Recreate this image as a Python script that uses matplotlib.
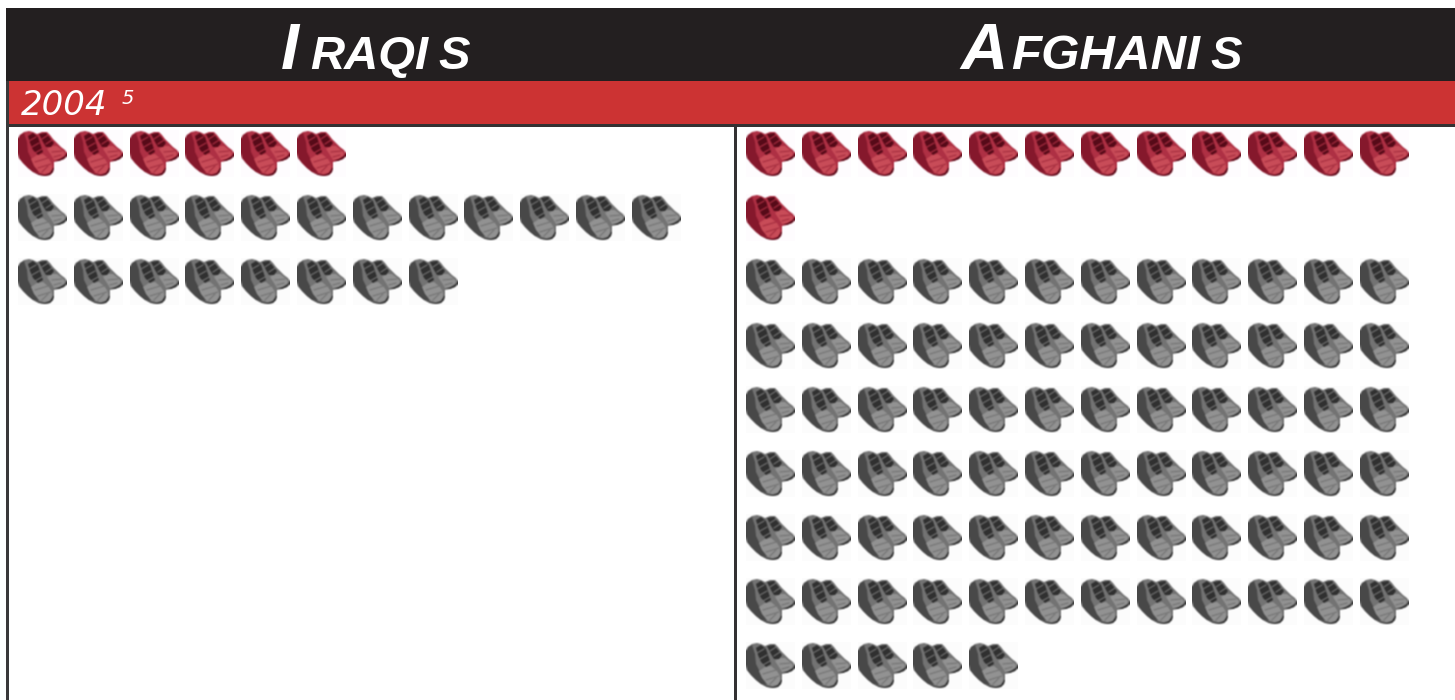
import numpy as np
import matplotlib
matplotlib.use("Agg")
import matplotlib.pyplot as plt
from matplotlib.patches import Polygon, Rectangle

plt.rcParams["font.family"] = ["Liberation Sans", "DejaVu Sans"]

# DATA

groups = ["Iraqis", "Afghanis"]
year = "2004"
footnote = "5"
red_shoes = [6, 13]
gray_shoes = [20, 77]
per_row = 12

# SHOE DRAWING

BLACK = "#231f20"
RED = "#cc3333"
W, H = 49, 47

outline = [(0, 9), (2, 5), (6, 2), (11, 1), (15, 2), (19, 4), (24, 2), (29, 2), (32, 5), (35, 9), (39, 13),
           (43, 17), (47, 20), (49, 23), (49, 26), (46, 29), (41, 31), (36, 32), (36, 38), (35, 42), (32, 45),
           (27, 46), (21, 45), (15, 42), (10, 38), (5, 33), (1, 28), (0, 22)]
heel = [(0, 9), (2, 5), (6, 3), (9, 12), (10, 22), (15, 32), (21, 43), (15, 42), (10, 38), (5, 33), (1, 28), (0, 22)]
lace_a = [(10, 6), (15, 3), (20, 7), (23, 16), (25, 22), (20, 25), (15, 20), (12, 13)]
lace_b = [(21, 4), (28, 3), (32, 8), (36, 13), (33, 17), (28, 17), (25, 12)]
toe_left = [(13, 29), (19, 25), (25, 24), (31, 29), (34, 34), (34, 40), (31, 43), (26, 44), (21, 42), (16, 36)]
toe_right = [(29, 19), (34, 16), (39, 16), (44, 20), (47, 23), (46, 26), (41, 29), (36, 30), (33, 25)]
sole_left = [(15, 42), (21, 44), (27, 45), (32, 43), (35, 38), (36, 38), (35, 42), (32, 45), (27, 46), (21, 45)]
sole_right = [(37, 31), (42, 29), (47, 26), (49, 23), (49, 26), (46, 29), (41, 31)]
lace_lines = [((11, 11), (18, 7)), ((14, 17), (21, 13)), ((17, 23), (24, 19)), ((24, 9), (30, 5)), ((28, 14), (34, 10))]
toe_lines = [((17, 32), (30, 28)), ((20, 38), (33, 34)), ((24, 42), (30, 36)), ((34, 22), (44, 21)), ((36, 27), (43, 25))]


def blur(img):
    # petit flou 1-2-1 pour imiter l'image basse résolution
    out = img.astype(float)
    kernel = [0.25, 0.5, 0.25]
    for axis in [0, 1]:
        pad = [(1, 1) if k == axis else (0, 0) for k in range(3)]
        out = np.apply_along_axis(lambda v: np.convolve(v, kernel, mode="valid"), axis, np.pad(out, pad, mode="edge"))
    return out.astype(np.uint8)


def make_shoe(mid, dark, light, rim, line, back):
    f = plt.figure(figsize=(W / 100, H / 100), dpi=100, facecolor=back)
    a = f.add_axes([0, 0, 1, 1])
    a.set_xlim(0, W)
    a.set_ylim(H, 0)
    a.axis("off")
    a.add_patch(Polygon(outline, color=mid, lw=0))
    a.add_patch(Polygon(heel, color=dark, lw=0))
    a.add_patch(Polygon(toe_left, color=light, lw=0))
    a.add_patch(Polygon(toe_right, color=light, lw=0))
    a.add_patch(Polygon(lace_a, color=rim, lw=0))
    a.add_patch(Polygon(lace_b, color=rim, lw=0))
    a.add_patch(Polygon(sole_left, color=rim, lw=0))
    a.add_patch(Polygon(sole_right, color=rim, lw=0))
    for p, q in lace_lines:
        a.plot([p[0], q[0]], [p[1], q[1]], color=mid, lw=0.8)
    for p, q in toe_lines:
        a.plot([p[0], q[0]], [p[1], q[1]], color=line, lw=0.7)
    f.canvas.draw()
    img = np.asarray(f.canvas.buffer_rgba()).copy()
    plt.close(f)
    return blur(img)


red_img = make_shoe("#ae3044", "#85182c", "#c84c58", "#560a18", "#a02a3c", "#fefcfe")
gray_img = make_shoe("#737373", "#484848", "#929292", "#303030", "#707070", "#fcfcfc")

# FIGURE

fig = plt.figure(figsize=(14.55, 7), dpi=100, facecolor="white")
ax = fig.add_axes([0, 0, 1, 1])
ax.axis("off")

# bars and dividers
ax.add_patch(Rectangle((6, 8), 1449, 73, color=BLACK, lw=0))
ax.add_patch(Rectangle((9, 81), 1446, 43, color=RED, lw=0))
ax.add_patch(Rectangle((6, 81), 3, 619, color="#3a3839", lw=0))
ax.add_patch(Rectangle((9, 124), 1446, 3, color="#333132", lw=0))
ax.add_patch(Rectangle((734, 127), 3, 573, color="#333132", lw=0))

# titles
big = dict(color="white", fontweight="bold", fontstyle="italic", va="baseline", fontsize=47)
small = dict(color="white", fontweight="bold", fontstyle="italic", va="baseline")
ax.text(281, 69, groups[0][0].upper(), **big)
ax.text(310, 69, groups[0][1:-1].upper(), fontsize=34, **small)
ax.text(438, 69, groups[0][-1].upper(), fontsize=34, **small)
ax.text(960, 69, groups[1][0].upper(), **big)
ax.text(1011, 69, groups[1][1:-1].upper(), fontsize=35.5, **small)
ax.text(1210, 69, groups[1][-1].upper(), fontsize=34, **small)

ax.text(21, 115, year, color="white", fontstyle="italic", va="baseline", fontsize=24.5, family="DejaVu Sans")
ax.text(122, 104, footnote, color="white", fontstyle="italic", va="baseline", fontsize=14, family="DejaVu Sans")

# shoes
starts = [18, 746]
for start, n_red, n_gray in zip(starts, red_shoes, gray_shoes):
    row = 0
    for count, img in [(n_red, red_img), (n_gray, gray_img)]:
        rows = int(np.ceil(count / per_row))
        for i in range(count):
            x = start + (i % per_row) * 55.8
            y = 130 + (row + i // per_row) * 64
            ax.imshow(img, extent=(x, x + W, y + H, y), interpolation="bilinear", aspect="auto", zorder=2)
        row += rows

ax.set_xlim(0, 1455)
ax.set_ylim(700, 0)

fig.savefig("out.png", dpi=100, facecolor="white")
